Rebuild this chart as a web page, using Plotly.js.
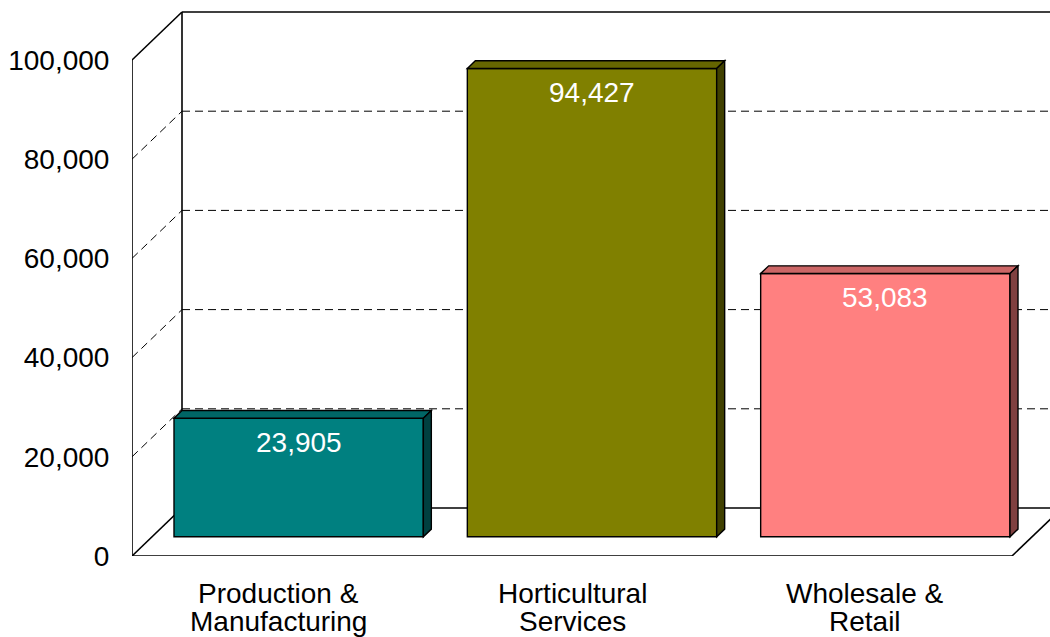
<!DOCTYPE html>
<html>
<head>
<meta charset="utf-8">
<script src="https://cdn.plot.ly/plotly-3.0.1.min.js"></script>
<style>html,body{margin:0;padding:0;background:#fff;}#chart{width:1050px;height:637px;}</style>
</head>
<body>
<div id="chart"></div>
<script>
// ---- data ----
const categories = [['Production &', 'Manufacturing'], ['Horticultural', 'Services'], ['Wholesale &', 'Retail']];
const values = [23905, 94427, 53083];
const valueLabels = ['23,905', '94,427', '53,083'];
const tickValues = [0, 20000, 40000, 60000, 80000, 100000];
const tickLabels = ['0', '20,000', '40,000', '60,000', '80,000', '100,000'];
const frontColors = ['#008080', '#808000', '#FF8080'];
const topColors = ['#006666', '#666600', '#CC6666'];
const sideColors = ['#004040', '#404000', '#804040'];

// ---- geometry (style) ----
const W = 1050, H = 637;
const ML = 132, MB = 81;
const pxPerX = 293.333;           // one category = 293.33 px
const pxPerY = 496 / 100000;      // front axis scale
const plotW = W - ML, plotH = H - MB;
const xMax = plotW / pxPerX;
const yMax = plotH / pxPerY;
const DX = 50 / pxPerX;           // full depth offset in x units
const DY = 48 / pxPerY;           // full depth offset in y units
const F0 = 0.4, F1 = 0.56;        // bar depth position (front / back)
const barW = 0.85;
const yTop = tickValues[tickValues.length - 1];
const font = 'Liberation Sans, Arial, sans-serif';
const FS = 28;

const shapes = [];
function line(x0, y0, x1, y1, dashed, layer) {
  shapes.push({type: 'line', xref: 'x', yref: 'y', x0, y0, x1, y1, layer: layer || 'below',
    line: {color: '#000', width: dashed ? 1 : 1.6, dash: dashed ? '8px,5px' : 'solid'}});
}
function poly(pts, color, layer) {
  const path = pts.map((p, i) => (i ? 'L' : 'M') + p[0] + ',' + p[1]).join(' ') + ' Z';
  shapes.push({type: 'path', xref: 'x', yref: 'y', path, fillcolor: color, layer: layer || 'above',
    line: {color: '#000', width: 1.4}});
}

// walls & gridlines
tickValues.forEach((v, i) => {
  const edge = (i === 0 || i === tickValues.length - 1);
  line(0, v, DX, v + DY, !edge);
  line(DX, v + DY, xMax + 1, v + DY, !edge);
});
line(DX, DY, DX, yTop + DY);
line(0, 0, 0, yTop);
line(0, 0, categories.length, 0);
line(categories.length, 0, categories.length + DX, DY);

// bar 3D faces
const dd = F1 - F0;
const barX = values.map((v, i) => i + 0.5 + F0 * DX);
values.forEach((v, i) => {
  const xl = barX[i] - barW / 2, xr = barX[i] + barW / 2;
  const yb = F0 * DY, yt = F0 * DY + v;
  poly([[xl, yt], [xr, yt], [xr + dd * DX, yt + dd * DY], [xl + dd * DX, yt + dd * DY]], topColors[i]);
  poly([[xr, yb], [xr, yt], [xr + dd * DX, yt + dd * DY], [xr + dd * DX, yb + dd * DY]], sideColors[i]);
});

const annotations = [];
values.forEach((v, i) => {
  annotations.push({x: barX[i], y: F0 * DY + v, xref: 'x', yref: 'y', text: valueLabels[i],
    showarrow: false, yanchor: 'middle', xanchor: 'center', yshift: -24,
    font: {family: font, size: FS, color: '#fff'}});
});
categories.forEach((lines, i) => {
  lines.forEach((t, j) => {
    annotations.push({x: i + 0.5, y: 0, xref: 'x', yref: 'paper', text: t, showarrow: false,
      yanchor: 'middle', xanchor: 'center', yshift: -37 - 28.5 * j,
      font: {family: font, size: FS, color: '#000'}});
  });
});

const trace = {
  type: 'bar', x: barX, y: values, base: values.map(() => F0 * DY), width: barW,
  marker: {color: frontColors, line: {color: '#000', width: 1.4}},
  hoverinfo: 'skip', textposition: 'none'
};

const layout = {
  width: W, height: H,
  margin: {l: ML, r: 0, t: 0, b: MB, pad: 0},
  paper_bgcolor: '#fff', plot_bgcolor: '#fff',
  showlegend: false, hovermode: false,
  xaxis: {range: [0, xMax], visible: false, fixedrange: true},
  yaxis: {range: [0, yMax], tickvals: tickValues, ticktext: tickLabels, showgrid: false,
    zeroline: false, showline: false, ticks: 'outside', ticklen: 16, tickcolor: 'rgba(0,0,0,0)',
    tickfont: {family: font, size: FS, color: '#000'}, fixedrange: true},
  shapes, annotations
};

Plotly.newPlot('chart', [trace], layout, {displayModeBar: false, staticPlot: true});
</script>
</body>
</html>
